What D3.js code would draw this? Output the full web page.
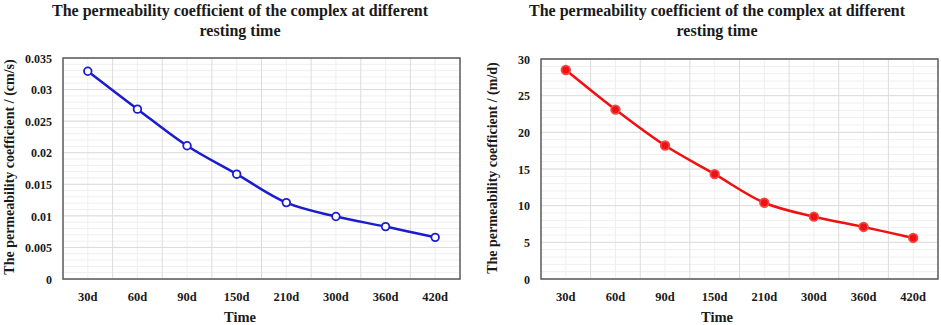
<!DOCTYPE html>
<html><head><meta charset="utf-8">
<script src="https://cdn.jsdelivr.net/npm/d3@7"></script>
<style>body{margin:0;background:#fff}svg{display:block}text{font-family:"Liberation Serif","Times New Roman",serif;font-weight:bold;fill:#1a1a1a}</style>
</head><body><svg id="c" width="941" height="325"></svg>
<script>
const categories = ["30d","60d","90d","150d","210d","300d","360d","420d"];
const valuesCmS = [0.0329, 0.0269, 0.0211, 0.0166, 0.0121, 0.0099, 0.0083, 0.0066];
const valuesMD = [28.5, 23.1, 18.2, 14.3, 10.4, 8.5, 7.1, 5.6];
const ticksCmS = [0, 0.005, 0.01, 0.015, 0.02, 0.025, 0.03, 0.035];
const ticksMD = [0, 5, 10, 15, 20, 25, 30];
const titleLines = ["The permeability coefficient of the complex at different", "resting time"];

const svg = d3.select("#c");

function chart(opt) {
  const g = svg.append("g");
  const x = d3.scaleBand().domain(categories).range([opt.x0, opt.x1]);
  const y = d3.scaleLinear().domain([0, opt.max]).range([opt.y1, opt.y0]);
  const minorStep = opt.step / 5;
  const minor = d3.range(0, opt.max + minorStep / 2, minorStep);
  g.selectAll(".hmin").data(minor).join("line")
    .attr("x1", opt.x0).attr("x2", opt.x1)
    .attr("y1", d => y(d)).attr("y2", d => y(d))
    .attr("stroke", "#efefef").attr("stroke-width", 1);
  g.selectAll(".vmin").data(categories).join("line")
    .attr("x1", d => x(d) + x.bandwidth() / 2).attr("x2", d => x(d) + x.bandwidth() / 2)
    .attr("y1", opt.y0).attr("y2", opt.y1)
    .attr("stroke", "#efefef").attr("stroke-width", 1);
  g.selectAll(".hmaj").data(opt.ticks).join("line")
    .attr("x1", opt.x0).attr("x2", opt.x1)
    .attr("y1", d => y(d)).attr("y2", d => y(d))
    .attr("stroke", "#dcdcdc").attr("stroke-width", 1);
  g.selectAll(".vmaj").data(categories.slice(1)).join("line")
    .attr("x1", d => x(d)).attr("x2", d => x(d))
    .attr("y1", opt.y0).attr("y2", opt.y1)
    .attr("stroke", "#dcdcdc").attr("stroke-width", 1);
  g.append("rect").attr("x", opt.x0).attr("y", opt.y0)
    .attr("width", opt.x1 - opt.x0).attr("height", opt.y1 - opt.y0)
    .attr("fill", "none").attr("stroke", "#5a5a5a").attr("stroke-width", 1.5);
  const ya = g.append("g").attr("transform", `translate(${opt.x0 - 11},0)`)
    .call(d3.axisLeft(y).tickValues(opt.ticks).tickSize(0).tickFormat(d => String(d)));
  ya.select(".domain").remove();
  ya.selectAll("text").style("font-size", "12px").attr("x", 0).attr("dy", "0.35em");
  const xa = g.append("g").attr("transform", `translate(0,${opt.y1 + 13})`)
    .call(d3.axisBottom(x).tickSize(0));
  xa.select(".domain").remove();
  xa.selectAll("text").style("font-size", "12.5px").attr("y", 0).attr("dy", "0.71em");
  const line = d3.line().x(d => x(d.c) + x.bandwidth() / 2).y(d => y(d.v)).curve(d3.curveCatmullRom.alpha(0.5));
  const data = categories.map((c, i) => ({c, v: opt.values[i]}));
  g.append("path").datum(data).attr("d", line).attr("fill", "none")
    .attr("stroke", opt.color).attr("stroke-width", 2.5);
  g.selectAll(".pt").data(data).join("circle")
    .attr("cx", d => x(d.c) + x.bandwidth() / 2).attr("cy", d => y(d.v))
    .attr("r", opt.r).attr("fill", opt.fill).attr("stroke", opt.stroke).attr("stroke-width", 1.8);
  g.append("text").attr("x", opt.tc).attr("y", 16).attr("text-anchor", "middle")
    .style("font-size", "16px").text(titleLines[0]);
  g.append("text").attr("x", opt.tc).attr("y", 36).attr("text-anchor", "middle")
    .style("font-size", "16px").text(titleLines[1]);
  g.append("text").attr("x", opt.tc).attr("y", 322).attr("text-anchor", "middle")
    .style("font-size", "14.5px").text("Time");
  g.append("text").attr("transform", `translate(${opt.yl},${opt.ylc}) rotate(-90)`)
    .attr("text-anchor", "middle").attr("dy", "0.35em")
    .style("font-size", "14px").text(opt.ylabel);
}

chart({x0: 63, x1: 460, y0: 58, y1: 279, max: 0.035, step: 0.005, ticks: ticksCmS,
  values: valuesCmS, color: "#1c1ccf", fill: "#ffffff", stroke: "#1c1ccf", r: 3.8,
  tc: 240, yl: 9, ylc: 167, ylabel: "The permeability coefficient / (cm/s)"});
chart({x0: 541, x1: 938, y0: 59, y1: 279, max: 30, step: 5, ticks: ticksMD,
  values: valuesMD, color: "#f01010", fill: "#f01010", stroke: "#f04848", r: 4.3,
  tc: 717, yl: 492, ylc: 168, ylabel: "The permeability coefficient / (m/d)"});
</script></body></html>
